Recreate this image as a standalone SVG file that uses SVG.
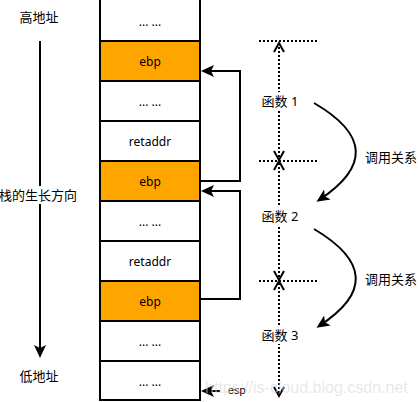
<svg xmlns="http://www.w3.org/2000/svg" width="418" height="402" viewBox="0 0 418 402">
<style>
.cell{fill:#ffffff;stroke:#000;stroke-width:2}
.hot{fill:#ffa500;stroke:#000;stroke-width:2}
.ct{font-family:"Noto Sans","DejaVu Sans",sans-serif;font-size:12px;fill:#000;text-anchor:middle;dominant-baseline:central}
.cj{font-family:"Noto Sans","Noto Sans CJK SC",sans-serif;font-size:13px;fill:#000;text-anchor:middle;dominant-baseline:central}
.ln{fill:none;stroke:#000;stroke-width:2}
.dot{fill:none;stroke:#000;stroke-width:2;stroke-dasharray:2 2}
.chev{fill:none;stroke:#000;stroke-width:2;stroke-linejoin:miter}
.bg{fill:#fff}
</style>
<defs>
<marker id="arr" markerUnits="userSpaceOnUse" markerWidth="14" markerHeight="14" viewBox="0 0 14 14" refX="10" refY="7" orient="auto">
<path d="M0,1 L13,7 L0,13 L3,7 Z" fill="#000"/>
</marker>
</defs>
<rect x="0" y="0" width="418" height="402" fill="#fff"/>

<g id="stack">
<g id="row0"><rect class="cell" x="100" y="-1" width="100" height="42"/><text class="ct" x="150" y="21">... ...</text></g>
<g id="row1"><rect class="hot" x="100" y="41" width="100" height="40"/><text class="ct" x="150" y="61">ebp</text></g>
<g id="row2"><rect class="cell" x="100" y="81" width="100" height="40"/><text class="ct" x="150" y="101">... ...</text></g>
<g id="row3"><rect class="cell" x="100" y="121" width="100" height="40"/><text class="ct" x="150" y="141">retaddr</text></g>
<g id="row4"><rect class="hot" x="100" y="161" width="100" height="40"/><text class="ct" x="150" y="181">ebp</text></g>
<g id="row5"><rect class="cell" x="100" y="201" width="100" height="40"/><text class="ct" x="150" y="221">... ...</text></g>
<g id="row6"><rect class="cell" x="100" y="241" width="100" height="40"/><text class="ct" x="150" y="261">retaddr</text></g>
<g id="row7"><rect class="hot" x="100" y="281" width="100" height="40"/><text class="ct" x="150" y="301">ebp</text></g>
<g id="row8"><rect class="cell" x="100" y="321" width="100" height="40"/><text class="ct" x="150" y="341">... ...</text></g>
<g id="row9"><rect class="cell" x="100" y="361" width="100" height="39"/><text class="ct" x="150" y="381">... ...</text></g>
</g>

<g id="connectors">
<path class="ln" d="M201,181 H240 V71 H204" marker-end="url(#arr)"/>
<path class="ln" d="M201,299 H240 V191 H204" marker-end="url(#arr)"/>
<path class="ln" d="M40,41 V355" marker-end="url(#arr)"/>
<path class="ln" d="M220,391 H204" marker-end="url(#arr)"/>
<path class="ln" d="M314,103 Q395,150 319,200" marker-end="url(#arr)"/>
<path class="ln" d="M314,229 Q395,277 319,326" marker-end="url(#arr)"/>
<path class="dot" d="M259,41 H317 M259,161 H317 M259,281 H317"/>
<path class="dot" d="M279,43 V396"/>
<polyline class="chev" points="274,52 279,43 284,52"/>
<polyline class="chev" points="274,151 279,160 284,151"/>
<polyline class="chev" points="274,170 279,161 284,170"/>
<polyline class="chev" points="274,271 279,280 284,271"/>
<polyline class="chev" points="274,290 279,281 284,290"/>
<polyline class="chev" points="274,387 279,396 284,387"/>
</g>

<g id="labels">
<text class="cj" x="39" y="17">高地址</text>
<rect class="bg" x="0" y="186" width="78" height="18"/>
<text class="cj" x="38" y="195">栈的生长方向</text>
<text class="cj" x="39" y="376">低地址</text>
<rect class="bg" x="259" y="92" width="42" height="18"/>
<text class="cj" x="280" y="101">函数 1</text>
<rect class="bg" x="259" y="207" width="42" height="18"/>
<text class="cj" x="280" y="216">函数 2</text>
<rect class="bg" x="259" y="326" width="42" height="18"/>
<text class="cj" x="280" y="335">函数 3</text>
<text class="cj" x="391" y="157">调用关系</text>
<text class="cj" x="391" y="279">调用关系</text>
<text x="228" y="394" font-family="Liberation Sans,Arial,sans-serif" font-size="11" fill="#000">esp</text>
<text x="205" y="393" font-family="Liberation Sans,Arial,sans-serif" font-size="16" fill="#d8d8d8" fill-opacity="0.6">https://is-cloud.blog.csdn.net</text>
</g>
</svg>
